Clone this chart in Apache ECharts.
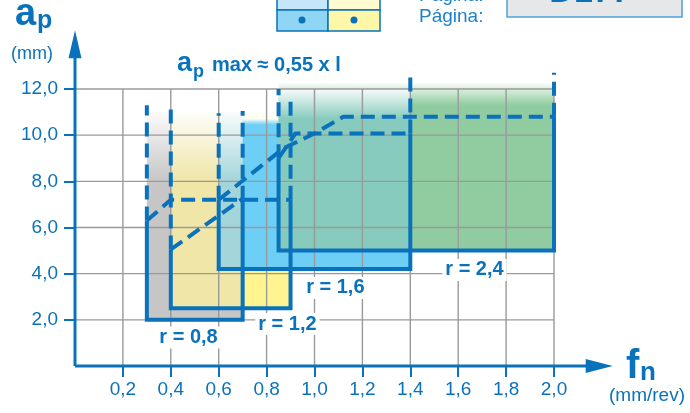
<!DOCTYPE html>
<html>
<head>
<meta charset="utf-8">
<script src="https://cdn.jsdelivr.net/npm/echarts@6/dist/echarts.min.js"></script>
<style>
html, body { margin: 0; padding: 0; background: #fff; }
#main { width: 690px; height: 413px; }
</style>
</head>
<body>
<div id="main"></div>
<script>
// insert radius areas (f_n in mm/rev, a_p in mm)
var radii = ['r = 0,8', 'r = 1,2', 'r = 1,6', 'r = 2,4'];
var fnFrom = [0.3, 0.4, 0.6, 0.85];
var fnTo = [0.7, 0.9, 1.4, 2.0];
var apFrom = [2.0, 2.5, 4.2, 5.0];
var apLeftTop = [6.3, 5.05, 7.2, 9.0];      // solid left edge ends here
var apRightTop = [7.2, 7.2, 10.07, 10.8];   // solid right edge ends here
var apDashLeft = [11.3, 11.15, 10.95, 12.0];
var apDashRight = [11.05, 11.45, 12.7, 12.7];
var apShadeTop = [11.0, 11.0, 10.7, 12.25];
var apShadeFull = [8.0, 8.3, 10.45, 11.3];
var boxColors = ['#c6c6c6', '#fff48f', '#6dcff6', '#90cca0'];

// overlapping areas: [box a, box b]
var overlaps = [[0, 1], [0, 2], [2, 3]];
var overlapColors = ['#efe6a7', '#a3d5da', '#86cbbd'];
var overlapShadeTop = [11.0, 11.0, 12.0];
var overlapShadeFull = [8.0, 8.0, 10.7];

// a_p max limit lines (dashed)
var limit08 = [[0.3, 6.3], [0.4, 7.2], [0.9, 7.2]];
var limit12 = [[0.4, 5.05], [0.7, 7.25]];
var limit16 = [[0.6, 7.2], [0.87, 9.43], [1.0, 10.07], [1.12, 10.8], [2.0, 10.8]];
var limit24 = [[0.85, 9.0], [0.92, 10.07], [1.4, 10.07]];

var fnTicks = [0.2, 0.4, 0.6, 0.8, 1.0, 1.2, 1.4, 1.6, 1.8, 2.0];
var apTicks = [2, 4, 6, 8, 10, 12];

var BLUE = '#0a72bb';
var FONT = '"Liberation Sans", Arial, sans-serif';
var xArrowEnd = 2.245, yArrowEnd = 14.55;
var labelAt = [[0.474, 1.23], [0.887, 1.82], [1.087, 3.38], [1.668, 4.16]];

function fmt(v) { return v.toFixed(1).replace('.', ','); }

function light(hex, t) {
    var n = parseInt(hex.slice(1), 16);
    var r = n >> 16 & 255, g = n >> 8 & 255, b = n & 255;
    r = Math.round(r + (255 - r) * t);
    g = Math.round(g + (255 - g) * t);
    b = Math.round(b + (255 - b) * t);
    return 'rgb(' + r + ',' + g + ',' + b + ')';
}

function shade(api, x0, x1, y0, top, full, color) {
    var p0 = api.coord([x0, top]), p1 = api.coord([x1, y0]);
    var f = (top - full) / (top - y0);
    return {
        type: 'rect',
        shape: { x: p0[0], y: p0[1], width: p1[0] - p0[0], height: p1[1] - p0[1] },
        style: {
            fill: new echarts.graphic.LinearGradient(0, 0, 0, 1, [
                { offset: 0, color: light(color, 0.93) },
                { offset: f, color: color },
                { offset: 1, color: color }
            ])
        }
    };
}

function line(api, pts, dashed, width) {
    return {
        type: 'polyline',
        shape: { points: pts.map(function (p) { return api.coord(p); }) },
        style: {
            stroke: BLUE, lineWidth: width || 4, fill: null,
            lineDash: dashed ? [14, 7] : null, lineJoin: 'miter', lineCap: 'butt'
        }
    };
}

function fillsItem(params, api) {
    var kids = [];
    for (var i = 0; i < radii.length; i++) {
        kids.push(shade(api, fnFrom[i], fnTo[i], apFrom[i], apShadeTop[i], apShadeFull[i], boxColors[i]));
        overlaps.forEach(function (o, k) {
            if (o[1] !== i) return;
            var a = o[0], b = o[1];
            kids.push(shade(api, Math.max(fnFrom[a], fnFrom[b]), Math.min(fnTo[a], fnTo[b]),
                Math.max(apFrom[a], apFrom[b]), overlapShadeTop[k], overlapShadeFull[k], overlapColors[k]));
        });
    }
    return { type: 'group', children: kids };
}

function gridItem(params, api) {
    var kids = [];
    var st = { stroke: '#9a9a9a', lineWidth: 1.4 };
    fnTicks.forEach(function (v) {
        var a = api.coord([v, 0]), b = api.coord([v, 12]);
        kids.push({ type: 'line', shape: { x1: a[0], y1: a[1], x2: b[0], y2: b[1] }, style: st });
    });
    apTicks.forEach(function (v) {
        var a = api.coord([0, v]), b = api.coord([2.0, v]);
        kids.push({ type: 'line', shape: { x1: a[0], y1: a[1], x2: b[0], y2: b[1] }, style: st });
    });
    return { type: 'group', children: kids };
}

function outlineItem(params, api) {
    var kids = [];
    for (var i = 0; i < radii.length; i++) {
        kids.push(line(api, [[fnFrom[i], apLeftTop[i]], [fnFrom[i], apFrom[i]],
            [fnTo[i], apFrom[i]], [fnTo[i], apRightTop[i]]], false));
    }
    for (i = 0; i < radii.length; i++) {
        kids.push(line(api, [[fnFrom[i], apLeftTop[i]], [fnFrom[i], apDashLeft[i]]], true));
        kids.push(line(api, [[fnTo[i], apRightTop[i]], [fnTo[i], apDashRight[i]]], true));
    }
    [limit08, limit12, limit16, limit24].forEach(function (l) {
        kids.push(line(api, l, true));
    });
    return { type: 'group', children: kids };
}

function axesItem(params, api) {
    var o = api.coord([0, 0]);
    var xe = api.coord([xArrowEnd, 0]);
    var ye = api.coord([0, yArrowEnd]);
    return {
        type: 'group',
        children: [
            { type: 'line', shape: { x1: o[0], y1: o[1], x2: xe[0] - 20, y2: o[1] }, style: { stroke: BLUE, lineWidth: 3 } },
            { type: 'line', shape: { x1: o[0], y1: o[1], x2: o[0], y2: ye[1] + 20 }, style: { stroke: BLUE, lineWidth: 3 } },
            { type: 'polygon', shape: { points: [[xe[0], xe[1]], [xe[0] - 27, xe[1] - 7], [xe[0] - 27, xe[1] + 7]] }, style: { fill: BLUE } },
            { type: 'polygon', shape: { points: [[ye[0], ye[1]], [ye[0] - 6.5, ye[1] + 28], [ye[0] + 6.5, ye[1] + 28]] }, style: { fill: BLUE } }
        ]
    };
}

function labelItem(params, api) {
    var i = params.dataIndex;
    var p = api.coord(labelAt[i]);
    return {
        type: 'text', x: p[0], y: p[1],
        style: {
            text: radii[i], fill: BLUE, font: 'bold 20px ' + FONT,
            align: 'center', verticalAlign: 'middle',
            backgroundColor: '#fff', padding: [1, 3]
        }
    };
}

function custom(name, fn, data) {
    return {
        name: name, type: 'custom', coordinateSystem: 'cartesian2d',
        renderItem: fn, data: data || [[0, 0]], clip: false, silent: true
    };
}

function txt(x, y, s, font, color, align) {
    return {
        type: 'text', x: x, y: y, silent: true,
        style: { text: s, font: font, fill: color || BLUE, align: align || 'left', verticalAlign: 'middle' }
    };
}

var myChart = echarts.init(document.getElementById('main'), null, { renderer: 'canvas' });
var option = {
    animation: false,
    grid: { left: 75, right: 136, top: 89, bottom: 47, containLabel: false, outerBoundsMode: 'none' },
    xAxis: {
        type: 'value', min: 0, max: 2.0, interval: 0.2,
        axisLine: { show: false }, splitLine: { show: false },
        axisTick: { show: true, length: 11, customValues: fnTicks, lineStyle: { color: BLUE, width: 2 } },
        axisLabel: { customValues: fnTicks, formatter: fmt, color: BLUE, fontSize: 19, fontFamily: FONT, margin: 14 }
    },
    yAxis: {
        type: 'value', min: 0, max: 12, interval: 2,
        axisLine: { show: false }, splitLine: { show: false },
        axisTick: { show: true, length: 11, customValues: apTicks, lineStyle: { color: BLUE, width: 2 } },
        axisLabel: { customValues: apTicks, formatter: fmt, color: BLUE, fontSize: 19, fontFamily: FONT, margin: 17 }
    },
    graphic: [
        // header fragments at the top edge
        { type: 'rect', shape: { x: 277, y: -3, width: 51, height: 13 }, style: { fill: '#c3e7f9', stroke: BLUE, lineWidth: 1.5 } },
        { type: 'rect', shape: { x: 328, y: -3, width: 52, height: 13 }, style: { fill: '#fffbd0', stroke: BLUE, lineWidth: 1.5 } },
        { type: 'rect', shape: { x: 277, y: 10, width: 51, height: 21 }, style: { fill: '#8fd5f4', stroke: BLUE, lineWidth: 1.5 } },
        { type: 'rect', shape: { x: 328, y: 10, width: 52, height: 21 }, style: { fill: '#fff7a8', stroke: BLUE, lineWidth: 1.5 } },
        { type: 'circle', shape: { cx: 302, cy: 20, r: 3.5 }, style: { fill: BLUE } },
        { type: 'circle', shape: { cx: 354, cy: 20, r: 3.5 }, style: { fill: BLUE } },
        txt(419, -4, 'Página:', '19px ' + FONT, '#1f82c8'),
        txt(419, 16.5, 'Página:', '19px ' + FONT, '#1f82c8'),
        { type: 'rect', shape: { x: 507, y: -5, width: 175, height: 22 }, style: { fill: '#e6e7e8', stroke: '#4fa3dc', lineWidth: 1.5 } },
        txt(590, -7.5, 'D177', 'bold 34px ' + FONT, BLUE, 'center'),
        // axis titles
        txt(15, 15, 'a', 'bold 38px ' + FONT),
        txt(37, 21, 'p', 'bold 25px ' + FONT),
        txt(32, 54, '(mm)', '18px ' + FONT, BLUE, 'center'),
        txt(626, 367, 'f', 'bold 40px ' + FONT),
        txt(640, 373, 'n', 'bold 26px ' + FONT),
        txt(647, 396, '(mm/rev)', '19px ' + FONT, BLUE, 'center'),
        // a_p max note
        txt(177, 63.5, 'a', 'bold 27px ' + FONT),
        txt(193, 72, 'p', 'bold 18px ' + FONT),
        txt(212, 65.5, 'max ≈ 0,55 x l', 'bold 20px ' + FONT)
    ],
    series: [
        custom('fills', fillsItem),
        custom('grid', gridItem),
        custom('axes', axesItem),
        custom('outline', outlineItem),
        custom('labels', labelItem, radii.map(function (r, i) { return [labelAt[i][0], labelAt[i][1]]; }))
    ]
};
myChart.setOption(option);
</script>
</body>
</html>
